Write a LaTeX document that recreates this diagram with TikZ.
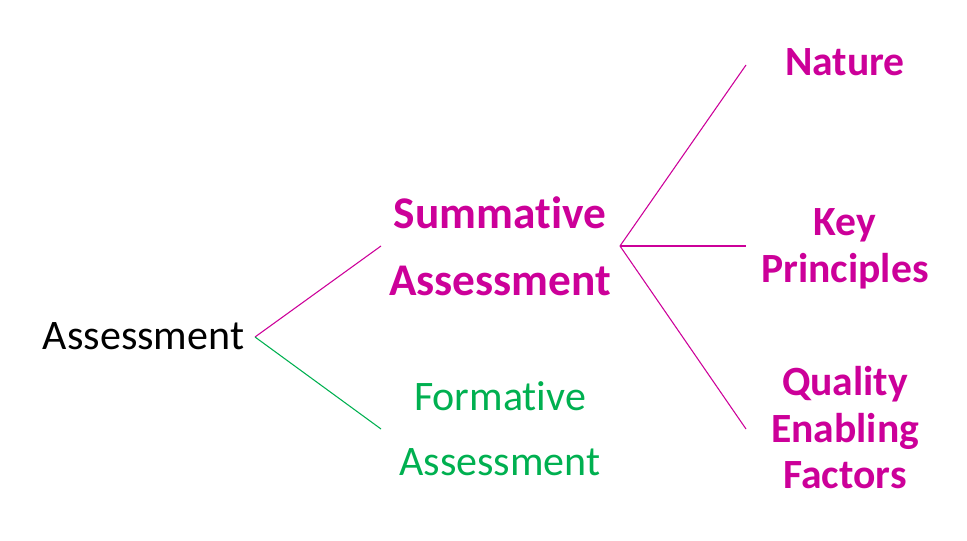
\documentclass[tikz,border=0pt]{standalone}
\usepackage{fontspec}
\setmainfont{Carlito}[Ligatures={NoCommon,NoContextual}]
\definecolor{mag}{HTML}{CC0099}
\definecolor{grn}{HTML}{00B050}
\begin{document}
\begin{tikzpicture}[x=0.75pt,y=-0.75pt,
  reg/.style={inner sep=0pt,anchor=base,font=\fontsize{31.5}{38}\selectfont},
  midb/.style={inner sep=0pt,anchor=base,text=mag,font=\fontsize{34}{40}\selectfont\bfseries},
  rightb/.style={inner sep=0pt,anchor=base,text=mag,font=\fontsize{31.2}{37}\selectfont\bfseries},
  magline/.style={draw=mag,line width=0.8pt},
  grnline/.style={draw=grn,line width=0.8pt}]
\useasboundingbox (0,0) rectangle (967,541);
% texts
\node[reg] (root) at (143.5,350) {Assessment};
\node[midb] (sum1) at (500,229) {Summative};
\node[midb] (sum2) at (500,296) {Assessment};
\node[reg,text=grn] (for1) at (500,410) {Formative};
\node[reg,text=grn] (for2) at (500,475) {Assessment};
\node[rightb] (nat) at (845,76) {Nature};
\node[rightb] (key1) at (845,236) {Key};
\node[rightb] (key2) at (845,283) {Principles};
\node[rightb] (qef1) at (845,396) {Quality};
\node[rightb] (qef2) at (845,442) {Enabling};
\node[rightb] (qef3) at (845,488) {Factors};
% connector ends
\coordinate (rootR) at (255,337);
\coordinate (sumL) at (381,246);
\coordinate (forL) at (381,429);
\coordinate (sumR) at (620,246);
\coordinate (natL) at (746,65);
\coordinate (keyL) at (746,246);
\coordinate (qefL) at (746,429);
\draw[magline] (rootR) -- (sumL);
\draw[grnline] (rootR) -- (forL);
\draw[magline] (sumR) -- (natL);
\draw[magline] (sumR) -- (keyL);
\draw[magline] (sumR) -- (qefL);
\end{tikzpicture}
\end{document}
